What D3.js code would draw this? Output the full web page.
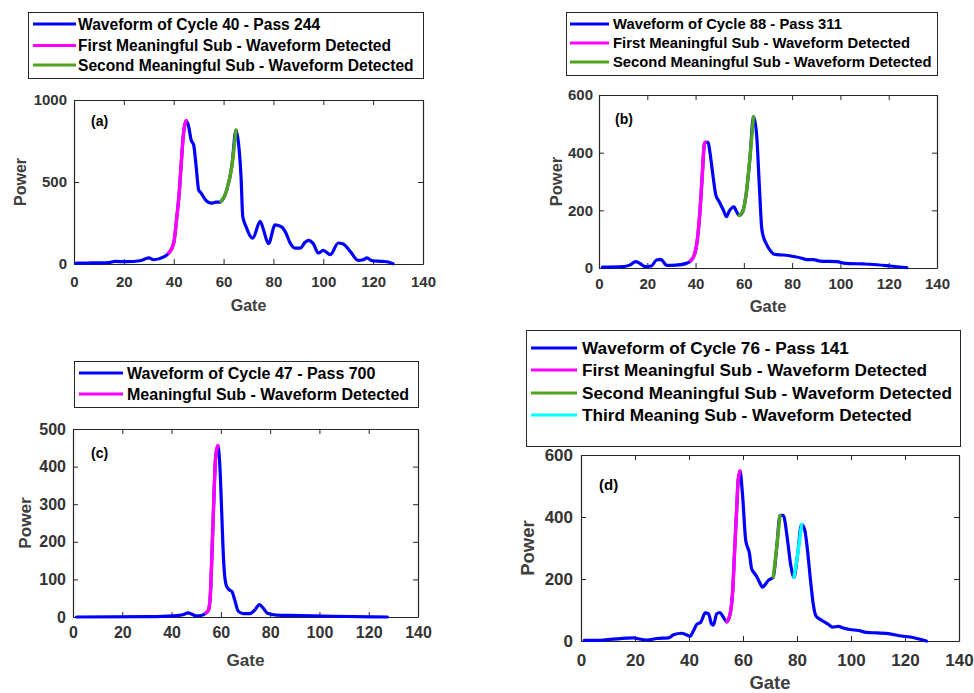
<!DOCTYPE html>
<html><head><meta charset="utf-8">
<script src="https://cdn.jsdelivr.net/npm/d3@7"></script>
<style>
body{margin:0;background:#fff}
svg{display:block;font-family:"Liberation Sans",Arial,sans-serif;font-weight:bold}
</style>
</head><body>
<svg id="chart" width="974" height="693"></svg>
<script>
// ---------------- DATA ----------------
const xTicks = [0, 20, 40, 60, 80, 100, 120, 140];
const yTicksA = [0, 500, 1000];
const yTicksB = [0, 200, 400, 600];
const yTicksC = [0, 100, 200, 300, 400, 500];
const yTicksD = [0, 200, 400, 600];

// [gate, power]
const waveA = [[1,5],[5,6],[10,7],[14,9],[16.5,16],[21,14],[26.5,20],[30,37],[32,26],[36,43],[38,67],[40,128],[41,250],[42.3,452],[43.2,655],[44,807],[45,874],[46,838],[47,756],[48,726],[49,594],[50,452],[51,432],[53,387],[55,371],[57,377],[58.6,377],[59,381],[61.3,452],[63.3,594],[65,817],[66,736],[67,533],[67.7,290],[69,229],[71.7,158],[74.7,260],[76,209],[78,124],[80.7,239],[83.4,225],[85,189],[86.7,128],[88.7,97],[90.7,97],[92.7,132],[94,144],[96,124],[98,67],[100,83],[102.8,57],[106,128],[107.8,124],[110.8,77],[114,22],[116,26],[117.5,37],[119.5,20],[124,16],[126,12],[128,2]];
const subA = [[38,45],[59,65]];
const legendA = ["Waveform of Cycle 40 - Pass 244","First Meaningful Sub - Waveform Detected","Second Meaningful Sub - Waveform Detected"];

const waveB = [[1.4,3],[10,5],[12.7,10],[15.2,22],[16.9,16],[19,5],[21.7,7],[23.8,28],[25.6,30],[26.6,22],[28,9],[32,10],[36.2,16],[38,25],[39.7,51],[40.8,103],[41.8,195],[42.7,311],[43.6,427],[44,436],[45.2,436],[45.9,404],[47,334],[48.4,253],[49.8,230],[51.5,201],[52.8,178],[54,198],[55.9,212],[57,195],[58,182],[59.5,195],[60.9,253],[62.5,380],[64,525],[65.3,461],[66.4,288],[67.4,138],[68.3,103],[69.4,82],[70.8,62],[72.9,47],[76.4,45],[80.5,40],[84,34],[86,29],[88.8,29],[91.6,24],[98.5,22],[102,16],[109.6,14],[112.3,13],[120.6,7],[127.5,1]];
const subB = [[38,44],[58,64]];
const legendB = ["Waveform of Cycle 88 - Pass 311","First Meaningful Sub - Waveform Detected","Second Meaningful Sub - Waveform Detected"];

const waveC = [[1.4,0],[31,1],[40.6,3],[44.6,6],[46.7,11],[48,8],[50,3],[52,4],[54,11],[55,19],[55.7,55],[56.4,170],[57.1,303],[57.9,427],[58.8,456],[59.8,374],[60.5,250],[61.1,152],[62.2,84],[63.3,73],[64.5,68],[65.6,46],[67,16],[69,9],[71.7,9],[73.7,18],[75.7,33],[77.1,24],[79.1,9],[82.5,5],[92,4],[105.5,2],[127.6,0]];
const subC = [[54,58.8]];
const legendC = ["Waveform of Cycle 47 - Pass 700","Meaningful Sub - Waveform Detected"];

const waveD = [[1.2,2],[5.9,2],[10.8,5],[19.5,10],[20.7,8],[24.4,3],[28.1,8],[32.4,10],[34.3,20],[37.3,25],[38.6,22],[40.4,15],[41.7,34],[42.9,54],[44.4,61],[46,91],[47.2,88],[48.4,54],[49,51],[50.3,88],[51.5,92],[52.7,77],[54,62],[55.2,86],[56.2,163],[56.9,292],[57.7,432],[58.2,518],[58.9,548],[59.8,475],[61,325],[62.4,282],[63.2,233],[64.8,212],[66.1,190],[67.2,174],[68.2,182],[69.4,196],[71.2,206],[72.5,303],[73.7,405],[74.9,405],[76.5,325],[77.6,249],[78.9,206],[80.1,271],[81.7,376],[82.9,357],[83.9,292],[85,196],[86,120],[87,81],[89.1,67],[91.6,54],[93.2,45],[95.3,47],[97.1,42],[99.6,37],[102.7,34],[105.7,28],[109.4,26],[114.4,23],[118.7,16],[121.8,13],[127.9,0]];
const subD = [[54,58.9],[71.2,73.7],[78.9,81.7]];
const legendD = ["Waveform of Cycle 76 - Pass 141","First Meaningful Sub - Waveform Detected","Second Meaningful Sub - Waveform Detected","Third Meaning Sub - Waveform Detected"];

const tags = ["(a)","(b)","(c)","(d)"];
const seriesColors = ["#0000ff","#ff00ff","#4ea51d","#00ffff"];

// ---------------- LAYOUT ----------------
const panels = [
  {wave:waveA, subs:subA, legend:legendA, yTicks:yTicksA, yMax:1000, tag:tags[0],
   box:{x0:74,x1:423,y0:100,y1:264}, tickFs:15, labFs:16, tickBase:287, gateBase:311, powerX:20, yPad:7,
   tagPos:[91,126,14],
   lg:{x0:28,y0:12,x1:423,y1:78, rows:[24,45.5,65], lx0:33, lx1:76, tx:78, fs:15.6}},
  {wave:waveB, subs:subB, legend:legendB, yTicks:yTicksB, yMax:600, tag:tags[1],
   box:{x0:599,x1:937,y0:95,y1:268}, tickFs:15, labFs:16.5, tickBase:289, gateBase:312, powerX:556, yPad:6,
   tagPos:[615,124,14],
   lg:{x0:566,y0:12,x1:937,y1:75, rows:[24,43,62], lx0:570, lx1:609, tx:613, fs:14.8}},
  {wave:waveC, subs:subC, legend:legendC, yTicks:yTicksC, yMax:500, tag:tags[2],
   box:{x0:73,x1:418,y0:429,y1:617}, tickFs:16, labFs:17.2, tickBase:638, gateBase:666, powerX:25, yPad:7,
   tagPos:[91,458,14],
   lg:{x0:74,y0:361,x1:418,y1:407, rows:[373,394], lx0:79, lx1:123, tx:127, fs:16}},
  {wave:waveD, subs:subD, legend:legendD, yTicks:yTicksD, yMax:600, tag:tags[3],
   box:{x0:581,x1:959,y0:455,y1:641}, tickFs:17, labFs:18.5, tickBase:666, gateBase:689, powerX:528, yPad:8,
   tagPos:[599,490,15],
   lg:{x0:526,y0:330,x1:960,y1:446, rows:[348,370,393,415], lx0:531, lx1:577, tx:582, fs:17.2}}
];

const svg = d3.select("#chart");
const axisColor = "#262626";
const textColor = "#333333";

panels.forEach(p => {
  const b = p.box;
  const x = d3.scaleLinear().domain([0,140]).range([b.x0,b.x1]);
  const y = d3.scaleLinear().domain([0,p.yMax]).range([b.y1,b.y0]);
  const g = svg.append("g");

  // axes
  const tk = 5;
  const bottom = g.append("g").attr("transform",`translate(0,${b.y1})`)
    .call(d3.axisBottom(x).tickValues(xTicks).tickSize(-tk).tickSizeOuter(0).tickFormat(d3.format("d")));
  bottom.selectAll("text").attr("y", p.tickBase - b.y1).attr("dy",0)
    .style("font-size",p.tickFs+"px").attr("fill",textColor).style("font-weight","bold");
  g.append("g").attr("transform",`translate(0,${b.y0})`)
    .call(d3.axisTop(x).tickValues(xTicks).tickSize(-tk).tickSizeOuter(0).tickFormat(""));
  const left = g.append("g").attr("transform",`translate(${b.x0},0)`)
    .call(d3.axisLeft(y).tickValues(p.yTicks).tickSize(-tk).tickSizeOuter(0).tickPadding(p.yPad).tickFormat(d3.format("d")));
  left.selectAll("text").style("font-size",p.tickFs+"px").attr("fill",textColor).style("font-weight","bold");
  g.append("g").attr("transform",`translate(${b.x1},0)`)
    .call(d3.axisRight(y).tickValues(p.yTicks).tickSize(-tk).tickSizeOuter(0).tickFormat(""));
  g.selectAll(".domain").attr("stroke",axisColor).attr("stroke-width",1.2);
  g.selectAll(".tick line").attr("stroke",axisColor);

  // axis labels
  g.append("text").attr("x",(b.x0+b.x1)/2).attr("y",p.gateBase).attr("text-anchor","middle")
    .style("font-size",p.labFs+"px").attr("fill","#404040").text("Gate");
  g.append("text").attr("transform",`translate(${p.powerX},${(b.y0+b.y1)/2}) rotate(-90)`)
    .attr("text-anchor","middle").attr("dy","0.35em")
    .style("font-size",p.labFs+"px").attr("fill","#404040").text("Power");

  // lines
  const line = d3.line().x(d=>x(d[0])).y(d=>y(d[1])).curve(d3.curveMonotoneX);
  g.append("path").datum(p.wave).attr("d",line).attr("fill","none")
    .attr("stroke",seriesColors[0]).attr("stroke-width",3.2).attr("stroke-linejoin","round").attr("stroke-linecap","round");
  p.subs.forEach((s,i) => {
    const pts = p.wave.filter(d => d[0] >= s[0] && d[0] <= s[1]);
    g.append("path").datum(pts).attr("d",line).attr("fill","none")
      .attr("stroke",seriesColors[i+1]).attr("stroke-width",3.4).attr("stroke-linecap","round");
  });

  // tag
  g.append("text").attr("x",p.tagPos[0]).attr("y",p.tagPos[1]).style("font-size",p.tagPos[2]+"px")
    .attr("fill","#000").text(p.tag);

  // legend
  const L = p.lg;
  const lg = svg.append("g");
  lg.append("rect").attr("x",L.x0+0.5).attr("y",L.y0+0.5).attr("width",L.x1-L.x0).attr("height",L.y1-L.y0)
    .attr("fill","#fff").attr("stroke","#262626").attr("stroke-width",1);
  p.legend.forEach((t,i) => {
    lg.append("line").attr("x1",L.lx0).attr("x2",L.lx1).attr("y1",L.rows[i]).attr("y2",L.rows[i])
      .attr("stroke",seriesColors[i]).attr("stroke-width",3);
    lg.append("text").attr("x",L.tx).attr("y",L.rows[i]).attr("dy","0.36em")
      .style("font-size",L.fs+"px").attr("fill","#000").text(t);
  });
});
</script>
</body></html>
